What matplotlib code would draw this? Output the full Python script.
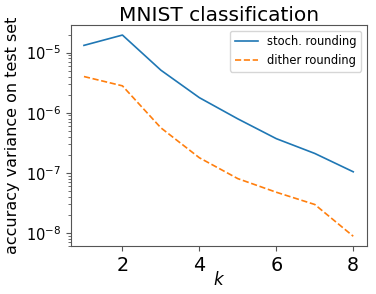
import matplotlib
matplotlib.use("Agg")
import matplotlib.pyplot as plt

k = [1, 2, 3, 4, 5, 6, 7, 8]
stoch = [1.32e-5, 1.96e-5, 5.1e-6, 1.78e-6, 7.9e-7, 3.7e-7, 2.1e-7, 1.04e-7]
dither = [4.0e-6, 2.8e-6, 5.6e-7, 1.78e-7, 8.0e-8, 4.75e-8, 2.97e-8, 8.8e-9]

fig = plt.figure(figsize=(3.76, 2.94), dpi=100)
ax = fig.add_axes([70.5/376, (294-246.3)/294, (366.7-70.5)/376, (246.3-25)/294])
ax.plot(k, stoch, color='#1f77b4', lw=1.2, label='stoch. rounding')
ax.plot(k, dither, color='#ff7f0e', lw=1.2, ls='--', label='dither rounding')
ax.set_yscale('log')
ax.set_title('MNIST classification', fontsize=14.5, pad=3)
ax.set_xlabel('$k$', fontsize=12, labelpad=-3)
ax.set_ylabel('accuracy variance on test set', fontsize=11.5, labelpad=4)
ax.tick_params(axis='x', labelsize=13.8)
ax.tick_params(axis='y', labelsize=10.5)
for s in ax.spines.values():
    s.set_color('#555555')
ax.tick_params(colors='#555555', labelcolor='black', which='both')
ax.legend(loc='upper right', fontsize=8.3)
fig.savefig('out.png', dpi=100)
